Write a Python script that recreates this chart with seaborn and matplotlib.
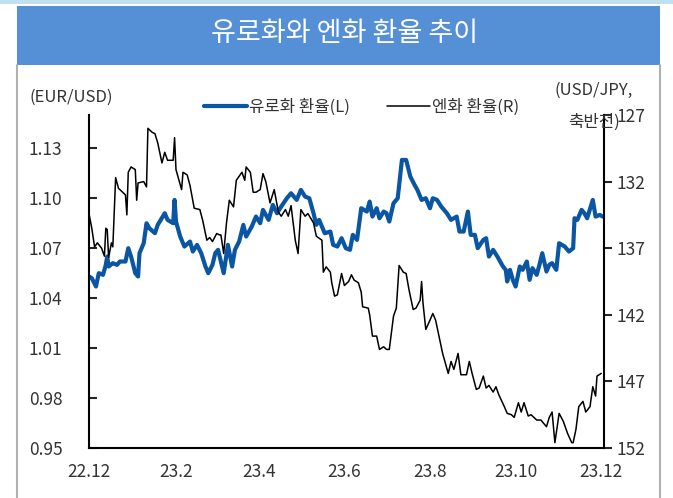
import pandas as pd
import seaborn as sns
import matplotlib.pyplot as plt
from matplotlib.patches import Rectangle
from matplotlib.lines import Line2D

# -------------------------------
# data (days since 2022-12-01)
# -------------------------------
eur_days = [0, 2, 5, 7, 10, 12, 13, 14, 17, 20,
            22, 26, 28, 30, 33, 35, 36, 39, 41, 43,
            47, 49, 54, 56, 60, 61, 62, 65, 68, 72,
            74, 77, 80, 83, 85, 88, 90, 92, 96, 99,
            102, 104, 107, 110, 112, 116, 119, 122, 124, 128,
            131, 134, 137, 141, 144, 148, 151, 154, 157, 160,
            162, 164, 168, 172, 174, 177, 180, 183, 186, 188,
            191, 194, 198, 200, 202, 205, 207, 210, 212, 214,
            217, 220, 223, 226, 229, 232, 234, 237, 240, 243,
            245, 248, 251, 255, 258, 262, 264, 267, 270, 272,
            275, 277, 281, 283, 285, 288, 291, 295, 297, 298,
            300, 302, 304, 307, 309, 312, 314, 316, 319, 321,
            323, 326, 328, 330, 333, 335, 339, 342, 345, 346,
            348, 351, 353, 355, 359, 361, 364, 366]
eur_usd = [1.053, 1.052, 1.047, 1.055, 1.054, 1.060, 1.065, 1.059, 1.061, 1.060,
           1.062, 1.062, 1.070, 1.065, 1.055, 1.053, 1.067, 1.073, 1.085, 1.082,
           1.079, 1.084, 1.091, 1.087, 1.085, 1.099, 1.086, 1.077, 1.071, 1.074,
           1.068, 1.072, 1.067, 1.059, 1.055, 1.060, 1.067, 1.069, 1.055, 1.072,
           1.059, 1.069, 1.074, 1.084, 1.077, 1.083, 1.089, 1.085, 1.093, 1.087,
           1.096, 1.091, 1.095, 1.100, 1.103, 1.099, 1.105, 1.101, 1.100, 1.091,
           1.084, 1.087, 1.079, 1.080, 1.072, 1.071, 1.076, 1.070, 1.069, 1.078,
           1.075, 1.094, 1.092, 1.098, 1.089, 1.094, 1.088, 1.092, 1.091, 1.086,
           1.097, 1.100, 1.123, 1.123, 1.113, 1.108, 1.105, 1.099, 1.100, 1.094,
           1.100, 1.099, 1.095, 1.091, 1.087, 1.089, 1.080, 1.080, 1.092, 1.078,
           1.078, 1.070, 1.075, 1.076, 1.065, 1.069, 1.065, 1.059, 1.057, 1.050,
           1.057, 1.051, 1.047, 1.059, 1.057, 1.062, 1.051, 1.058, 1.054, 1.060,
           1.067, 1.056, 1.060, 1.061, 1.057, 1.073, 1.071, 1.068, 1.070, 1.088,
           1.087, 1.093, 1.091, 1.088, 1.099, 1.089, 1.090, 1.089]

jpy_days = [0, 2, 4, 6, 9, 11, 12, 13, 14, 16,
            17, 19, 21, 23, 26, 27, 28, 30, 33, 34,
            35, 39, 41, 42, 45, 47, 49, 52, 54, 56,
            60, 61, 62, 66, 67, 70, 72, 75, 79, 81,
            84, 86, 88, 91, 93, 94, 96, 98, 100, 103,
            105, 107, 109, 111, 112, 115, 117, 119, 122, 124,
            126, 129, 132, 135, 137, 140, 142, 144, 147, 149,
            151, 154, 156, 160, 162, 166, 167, 169, 172, 173,
            175, 177, 180, 182, 185, 187, 189, 192, 194, 195,
            199, 200, 202, 205, 207, 210, 212, 214, 217, 219,
            221, 224, 226, 228, 231, 233, 236, 237, 238, 240,
            243, 245, 247, 250, 252, 256, 258, 260, 263, 265,
            269, 271, 273, 276, 278, 281, 283, 285, 288, 290,
            292, 296, 298, 301, 303, 306, 308, 310, 313, 315,
            319, 322, 326, 328, 330, 332, 335, 338, 341, 344,
            345, 347, 349, 352, 354, 357, 359, 361, 362, 365]
usd_jpy = [134.4, 135.5, 136.9, 136.6, 137.0, 137.6, 135.5, 135.6, 137.7, 136.6,
           136.9, 131.7, 132.5, 132.7, 133.0, 134.5, 131.3, 130.9, 131.1, 133.4,
           132.1, 132.0, 132.4, 128.0, 128.3, 128.4, 129.1, 130.6, 129.8, 130.4,
           130.4, 128.7, 131.1, 132.6, 131.3, 131.5, 132.3, 134.0, 134.1, 134.9,
           136.4, 136.2, 136.5, 135.9, 136.0, 136.0, 137.4, 135.1, 133.4, 133.9,
           131.9, 131.6, 131.3, 131.9, 130.9, 131.3, 132.8, 132.8, 132.6, 131.4,
           132.0, 133.6, 132.6, 134.3, 134.6, 134.1, 134.6, 133.8, 136.4, 137.4,
           134.1, 134.6, 134.4, 135.1, 136.1, 136.4, 138.8, 138.4, 138.8, 139.6,
           140.6, 140.5, 138.9, 139.8, 139.5, 139.0, 139.4, 139.6, 140.3, 141.4,
           141.5, 142.0, 143.6, 143.6, 144.6, 144.4, 144.6, 144.6, 142.1, 141.5,
           138.3, 138.8, 138.9, 140.1, 141.6, 141.5, 140.9, 139.5, 141.1, 143.1,
           142.4, 141.9, 142.4, 143.9, 144.9, 146.4, 145.5, 146.1, 144.9, 146.5,
           146.5, 145.5, 146.4, 147.6, 147.5, 146.6, 147.5, 147.3, 147.8, 147.4,
           148.0, 148.9, 149.4, 149.5, 149.7, 148.6, 149.3, 148.6, 149.6, 149.5,
           149.9, 149.9, 150.4, 149.7, 149.3, 151.6, 149.4, 150.0, 150.9, 151.6,
           151.6, 150.6, 148.9, 148.5, 149.3, 148.9, 147.4, 148.1, 146.6, 146.4]

x_ticks = ["2022-12-01", "2023-02-01", "2023-04-01", "2023-06-01",
           "2023-08-01", "2023-10-01", "2023-12-01"]
x_labels = ["22.12", "23.2", "23.4", "23.6", "23.8", "23.10", "23.12"]
left_ticks = [0.95, 0.98, 1.01, 1.04, 1.07, 1.10, 1.13]
right_ticks = [127, 132, 137, 142, 147, 152]

start = pd.Timestamp("2022-12-01")
eur = pd.DataFrame({"date": start + pd.to_timedelta(eur_days, unit="D"), "rate": eur_usd})
jpy = pd.DataFrame({"date": start + pd.to_timedelta(jpy_days, unit="D"), "rate": usd_jpy})

# -------------------------------
# plot
# -------------------------------
sns.set_style("white")
plt.rcParams['font.family'] = ['Noto Sans CJK KR', 'DejaVu Sans']
txt = "#333333"

fig = plt.figure(figsize=(6.73, 4.98), dpi=100)

# header band + frame
fig.add_artist(Rectangle((0, 0.991), 1, 0.009, transform=fig.transFigure,
                         color="#bfe0ee", lw=0))
fig.add_artist(Rectangle((0.0253, 0.8695), 0.9557, 0.1185, transform=fig.transFigure,
                         color="#5590d6", lw=0))
fig.text(0.512, 0.932, "유로화와 엔화 환율 추이", color="white", fontsize=19.5,
         ha="center", va="center")
for xf in (0.0253, 0.981):
    fig.add_artist(Line2D([xf, xf], [0, 0.8695], transform=fig.transFigure,
                          color="#b0b0b0", lw=1.5))

ax = fig.add_axes([0.1322, 0.1004, 0.7653, 0.6687])
ax2 = ax.twinx()

sns.lineplot(data=eur, x="date", y="rate", ax=ax, color="#0a56a3", lw=3.0,
             label="유로화 환율(L)", legend=False)
sns.lineplot(data=jpy, x="date", y="rate", ax=ax2, color="black", lw=1.1,
             label="엔화 환율(R)", legend=False)

ax.set_xlim(start, start + pd.Timedelta(days=367))
ax.set_ylim(0.95, 1.15)
ax2.set_ylim(152, 127)

ax.set_xticks(pd.to_datetime(x_ticks))
ax.set_xticklabels(x_labels)
ax.set_yticks(left_ticks)
ax.set_yticklabels([f"{v:.2f}" for v in left_ticks])
ax2.set_yticks(right_ticks)
ax2.set_yticklabels([str(v) for v in right_ticks])

for a in (ax, ax2):
    a.set_xlabel("")
    a.set_ylabel("")
    a.spines["top"].set_visible(False)
ax.spines["right"].set_visible(False)
ax2.spines["left"].set_visible(False)
for s in ("left", "bottom"):
    ax.spines[s].set_linewidth(1.5)
    ax.spines[s].set_color("black")
ax2.spines["right"].set_linewidth(1.5)
ax2.spines["right"].set_color("black")
ax2.spines["bottom"].set_visible(False)

ax.tick_params(axis="y", direction="in", length=6, width=1.5, pad=19,
               labelsize=12.5, labelcolor=txt)
ax.tick_params(axis="x", direction="in", length=6, width=1.5, pad=11,
               labelsize=12.5, labelcolor=txt)
ax2.tick_params(axis="y", direction="out", length=6, width=1.5, pad=3,
                labelsize=12.5, labelcolor=txt)

fig.text(0.044, 0.805, "(EUR/USD)", fontsize=12, color=txt, ha="left", va="center")
fig.text(0.882, 0.818, "(USD/JPY,", fontsize=12, color=txt, ha="center", va="center")
fig.text(0.882, 0.755, "축반전)", fontsize=12, color=txt, ha="center", va="center")

h1, l1 = ax.get_legend_handles_labels()
h2, l2 = ax2.get_legend_handles_labels()
fig.legend(h1 + h2, l1 + l2, loc="center", bbox_to_anchor=(0.537, 0.785), ncol=2,
           frameon=False, fontsize=12, handlelength=2.6, handletextpad=0.1,
           columnspacing=2.2, labelcolor=txt)

plt.savefig("out.png", dpi=100)
